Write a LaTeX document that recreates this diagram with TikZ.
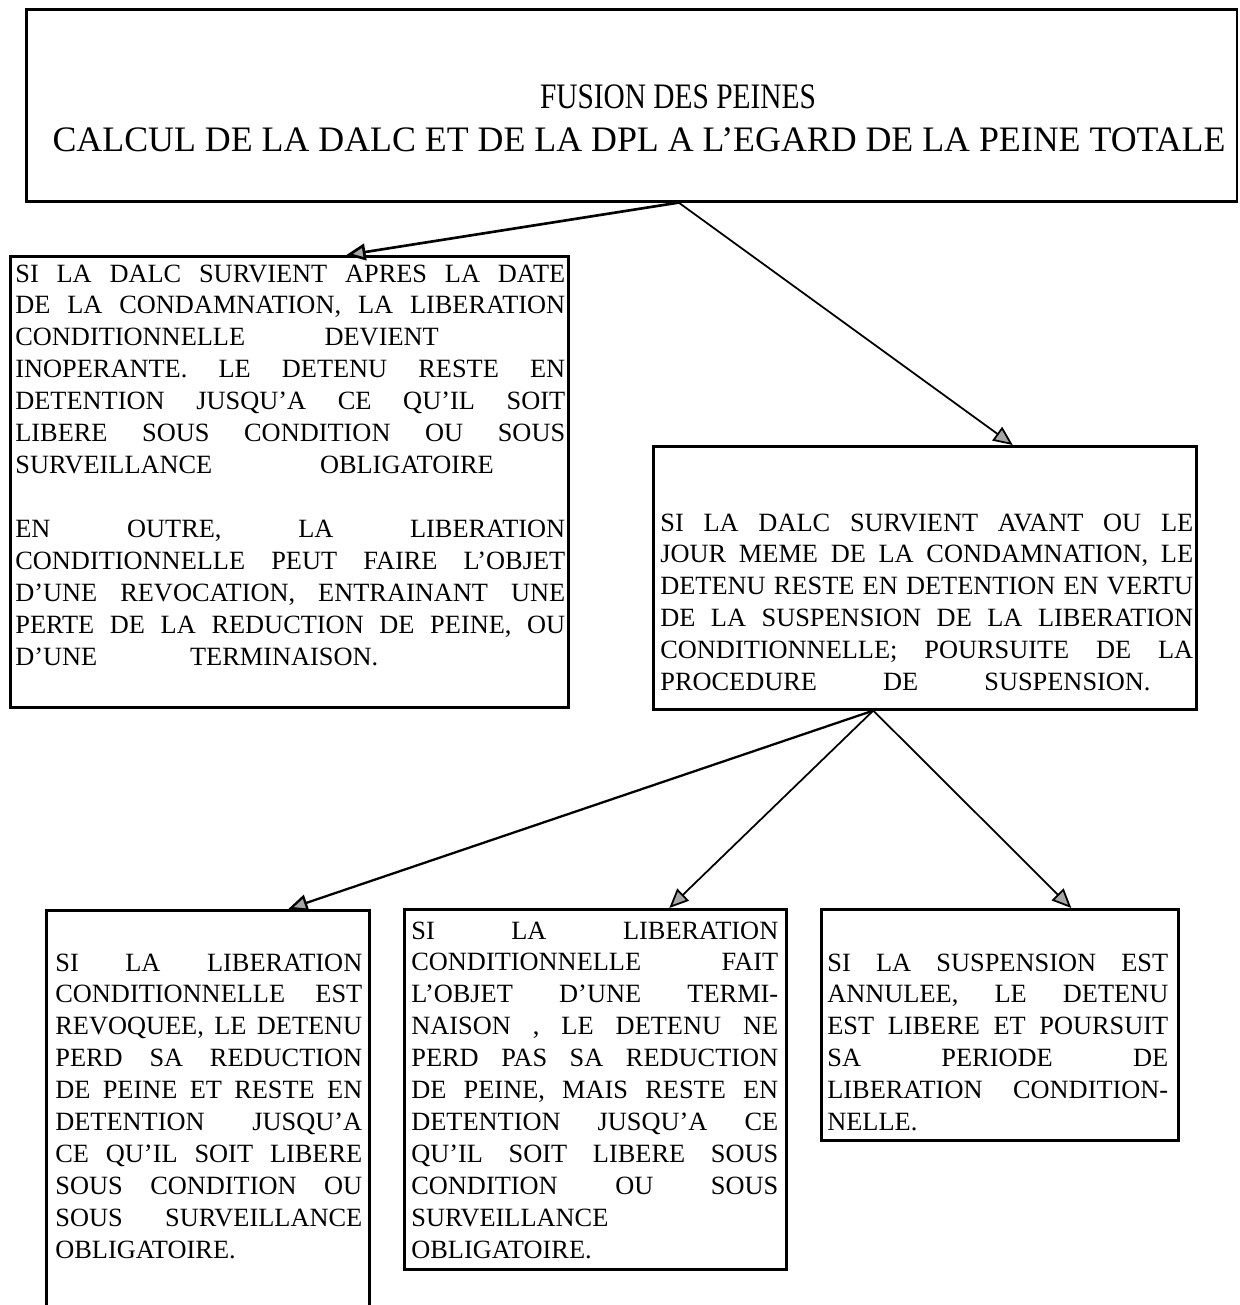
\documentclass[tikz,border=0pt]{standalone}
\usepackage{fontspec}
\setmainfont{Liberation Serif}
\usetikzlibrary{arrows.meta,calc}
\newlength{\colw}
\newcommand{\jl}[2][1]{\makebox[#1\colw][s]{\spaceskip=.25em plus 1fil\xspaceskip=\spaceskip #2}}

\begin{document}
\begin{tikzpicture}[x=0.02cm, y=-0.02cm,
                frame/.style={draw, line width=1.5pt, inner sep=0pt, anchor=north west},
                para/.style={anchor=base west, inner sep=0pt, align=left, text width=#1,
                    execute at begin node={\setlength{\colw}{#1}}, font=\fontsize{15}{18.2}\selectfont},
                link/.style={line width=1pt, -{Triangle[length=11pt, width=9.5pt, fill=gray!70]}}]
                \useasboundingbox (0,0) rectangle (1240,1305);
                \node[frame, minimum width=24.22cm, minimum height=3.84cm] (peine) at (25,8) {};
                \node[frame, minimum width=11.16cm, minimum height=9.02cm] (boxL) at (9,255) {};
                \node[frame, minimum width=10.86cm, minimum height=5.26cm] (boxR) at (652,445) {};
                \node[frame, minimum width=6.46cm, minimum height=8.4cm] (boxA) at (45,909) {};
                \node[frame, minimum width=7.64cm, minimum height=7.2cm] (boxB) at (403,908) {};
                \node[frame, minimum width=7.14cm, minimum height=4.62cm] (boxC) at (820,908) {};
                \node[align=center, inner sep=0pt, font=\fontsize{20.4}{24.5}\selectfont] (titre) at (639,118.5)
                    {\hspace*{1.56cm}\scalebox{0.82}[1]{FUSION DES PEINES}\\CALCUL DE LA DALC ET DE LA DPL A L'EGARD DE LA PEINE TOTALE};
                \node[para=11cm] (txtL) at ($(boxL.north west)+(6,27)$) {%
                    \jl{SI LA DALC SURVIENT APRES LA DATE}\\
                    \jl{DE LA CONDAMNATION, LA LIBERATION}\\
                    \jl[0.77]{CONDITIONNELLE DEVIENT}\\
                    \jl{INOPERANTE. LE DETENU RESTE EN}\\
                    \jl{DETENTION JUSQU'A CE QU'IL SOIT}\\
                    \jl{LIBERE SOUS CONDITION OU SOUS}\\
                    \jl[0.87]{SURVEILLANCE OBLIGATOIRE}\\[\baselineskip]
                    \jl{EN OUTRE, LA LIBERATION}\\
                    \jl{CONDITIONNELLE PEUT FAIRE L'OBJET}\\
                    \jl{D'UNE REVOCATION, ENTRAINANT UNE}\\
                    \jl{PERTE DE LA REDUCTION DE PEINE, OU}\\
                    \jl[0.66]{D'UNE TERMINAISON.}};
                \node[para=10.66cm] (txtR) at ($(boxR.north west)+(8,86)$) {%
                    \jl{SI LA DALC SURVIENT AVANT OU LE}\\
                    \jl{JOUR MEME DE LA CONDAMNATION, LE}\\
                    \jl{DETENU RESTE EN DETENTION EN VERTU}\\
                    \jl{DE LA SUSPENSION DE LA LIBERATION}\\
                    \jl{CONDITIONNELLE; POURSUITE DE LA}\\
                    \jl[0.92]{PROCEDURE DE SUSPENSION.}};
                \node[para=6.14cm] (txtA) at ($(boxA.north west)+(10,62)$) {%
                    \jl{SI LA LIBERATION}\\
                    \jl{CONDITIONNELLE EST}\\
                    \jl{REVOQUEE, LE DETENU}\\
                    \jl{PERD SA REDUCTION}\\
                    \jl{DE PEINE ET RESTE EN}\\
                    \jl{DETENTION JUSQU'A}\\
                    \jl{CE QU'IL SOIT LIBERE}\\
                    \jl{SOUS CONDITION OU}\\
                    \jl{SOUS SURVEILLANCE}\\
                    OBLIGATOIRE.};
                \node[para=7.34cm] (txtB) at ($(boxB.north west)+(8,31)$) {%
                    \jl{SI LA LIBERATION}\\
                    \jl{CONDITIONNELLE FAIT}\\
                    \jl{L'OBJET D'UNE TERMI-}\\
                    \jl{NAISON , LE DETENU NE}\\
                    \jl{PERD PAS SA REDUCTION}\\
                    \jl{DE PEINE, MAIS RESTE EN}\\
                    \jl{DETENTION JUSQU'A CE}\\
                    \jl{QU'IL SOIT LIBERE SOUS}\\
                    \jl{CONDITION OU SOUS}\\
                    SURVEILLANCE\\
                    OBLIGATOIRE.};
                \node[para=6.82cm] (txtC) at ($(boxC.north west)+(7,63)$) {%
                    \jl{SI LA SUSPENSION EST}\\
                    \jl{ANNULEE, LE DETENU}\\
                    \jl{EST LIBERE ET POURSUIT}\\
                    \jl{SA PERIODE DE}\\
                    \jl{LIBERATION CONDITION-}\\
                    NELLE.};
                \draw[link, line width=1.5pt] ($(peine.south)+(47,0)$) -- ($(boxL.north)+(57,0)$);
                \draw[link] ($(peine.south)+(47,0)$) -- ($(boxR.north)+(88,0)$);
                \draw[link, line width=1.3pt] ($(boxR.south)+(-51.5,0)$) -- ($(boxA.north)+(80.5,0)$);
                \draw[link] ($(boxR.south)+(-51.5,0)$) -- ($(boxB.north)+(74,0)$);
                \draw[link] ($(boxR.south)+(-51.5,0)$) -- ($(boxC.north)+(71.5,0)$);
            \end{tikzpicture}
\end{document}
